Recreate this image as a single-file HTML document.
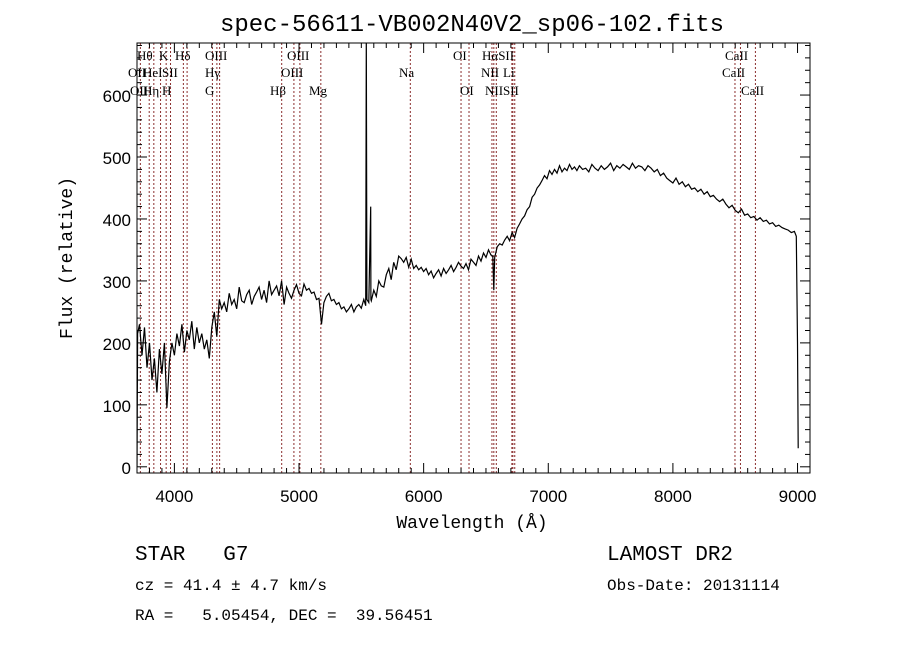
<!DOCTYPE html>
<html><head><meta charset="utf-8"><style>
body{margin:0;background:#fff;}
svg{display:block}
.t{font-family:"Liberation Serif",serif;font-size:13px;fill:#000}
.ax{font-family:"Liberation Sans",sans-serif;font-size:17px;fill:#000}
.mono{font-family:"Liberation Mono",monospace;fill:#000}
</style></head><body>
<svg id="c" width="900" height="649" xmlns="http://www.w3.org/2000/svg"></svg>
<script>
const wave=[3700,3705,3720,3740,3760,3780,3800,3820,3840,3860,3880,3900,3920,3940,3960,3980,4000,4020,4040,4060,4080,4100,4120,4140,4160,4180,4200,4220,4240,4260,4280,4300,4320,4340,4360,4380,4400,4420,4440,4460,4480,4500,4520,4540,4560,4580,4600,4620,4640,4660,4680,4700,4720,4740,4760,4780,4800,4820,4840,4860,4880,4900,4920,4940,4960,4980,5000,5020,5040,5060,5080,5100,5120,5140,5160,5180,5200,5220,5240,5260,5280,5300,5320,5340,5360,5380,5400,5420,5440,5460,5480,5500,5520,5535,5540,5545,5560,5575,5577,5580,5600,5620,5640,5660,5680,5700,5720,5740,5760,5780,5800,5820,5840,5860,5880,5900,5920,5940,5960,5980,6000,6020,6040,6060,6080,6100,6120,6140,6160,6180,6200,6220,6240,6260,6280,6300,6320,6340,6360,6380,6400,6420,6440,6460,6480,6500,6520,6540,6555,6563,6570,6590,6610,6630,6650,6670,6690,6710,6730,6750,6770,6790,6810,6830,6850,6870,6890,6910,6930,6950,6970,6990,7010,7030,7050,7070,7090,7110,7130,7150,7170,7190,7210,7230,7250,7275,7300,7325,7350,7375,7400,7425,7450,7475,7500,7525,7550,7575,7600,7625,7650,7675,7700,7725,7750,7775,7800,7825,7850,7875,7900,7925,7950,7975,8000,8025,8050,8075,8100,8125,8150,8175,8200,8225,8250,8275,8300,8325,8350,8375,8400,8425,8450,8475,8500,8525,8550,8575,8600,8625,8650,8675,8700,8725,8750,8775,8800,8825,8850,8875,8900,8925,8950,8975,8990,9000,9005,9010];
const flux=[0,215,230,180,225,160,200,140,175,120,190,150,200,95,170,200,180,215,195,230,185,220,205,235,190,225,200,215,190,205,175,225,250,210,270,255,265,250,280,262,270,255,290,268,265,278,285,262,275,282,290,270,285,265,300,278,285,292,276,300,262,290,280,272,285,294,280,276,295,285,288,280,282,270,272,230,265,275,280,268,270,262,265,255,258,250,255,262,250,258,262,256,270,260,700,270,265,420,270,268,285,275,300,292,290,310,320,302,330,318,340,336,330,338,322,335,320,325,318,322,315,320,310,316,305,312,318,308,320,312,318,325,315,322,330,324,320,328,318,335,330,325,340,332,345,338,350,342,340,285,338,355,360,358,366,372,365,378,370,385,392,400,405,415,420,435,440,450,455,462,470,465,478,472,480,474,486,476,482,478,488,480,484,478,486,480,482,476,488,482,478,486,480,484,490,478,486,482,488,484,480,490,482,486,484,478,486,482,476,480,470,474,466,462,458,466,456,460,452,456,448,450,444,448,440,444,436,438,432,428,432,424,418,422,414,410,416,406,408,402,404,398,402,396,398,392,394,388,390,386,384,382,378,380,372,200,30];
const lineW=[3727,3798,3835,3889,3934,3969,4072,4102,4305,4341,4363,4861,4959,5007,5175,5893,6300,6364,6548,6563,6583,6708,6716,6731,8498,8542,8662];
const labels=[["Hθ",137,60],["K",159,60],["Hδ",175,60],["OIII",205,60],["OIII",287,60],["OI",453,60],["HαSII",482,60],["CaII",725,60],
["OII",128,77],["HeI",143,77],["SII",162,77],["Hγ",205,77],["OIII",281,77],["Na",399,77],["NII",481,77],["Li",503,77],["CaII",722,77],
["OII",130,95],["Hη",143,95],["H",162,95],["G",205,95],["Hβ",270,95],["Mg",309,95],["OI",460,95],["NII",485,95],["SII",503,95],["CaII",741,95]];
const xTicks=[4000,5000,6000,7000,8000,9000];
const yTicks=[0,100,200,300,400,500,600];
const L=137,R=810,T=43,B=473,X0=3700,X1=9100,Y0=-10,Y1=684;
const sx=w=>L+(w-X0)/(X1-X0)*(R-L), sy=f=>B-(f-Y0)/(Y1-Y0)*(B-T);
const svg=document.getElementById('c');const NS='http://www.w3.org/2000/svg';
function mk(tag,at,parent){const e=document.createElementNS(NS,tag);for(const k in at)e.setAttribute(k,at[k]);(parent||svg).appendChild(e);return e;}
const defs=mk('defs',{});const cp=mk('clipPath',{id:'pc'},defs);mk('rect',{x:L,y:T,width:R-L,height:B-T},cp);
lineW.forEach(w=>{const e=mk('line',{x1:sx(w),x2:sx(w),y1:T,y2:B,stroke:'#8b2e2e','stroke-width':1,'stroke-dasharray':'2,2'});

});
labels.forEach(l=>{const e=mk('text',{x:l[1],y:l[2],class:'t'});e.textContent=l[0];

});
let d='';wave.forEach((w,i)=>{d+=(i?'L':'M')+sx(w).toFixed(1)+','+sy(flux[i]).toFixed(1);});
const p=mk('path',{d:d,fill:'none',stroke:'#000','stroke-width':1.2,'clip-path':'url(#pc)'});


const fr=mk('rect',{x:L,y:T,width:R-L,height:B-T,fill:'none',stroke:'#000','stroke-width':1});


for(let w=3700;w<=9100;w+=100){const maj=w%1000==0;const h=maj?10:5;
mk('line',{x1:sx(w),x2:sx(w),y1:B,y2:B-h,stroke:'#000'});mk('line',{x1:sx(w),x2:sx(w),y1:T,y2:T+h,stroke:'#000'});}
for(let f=0;f<=680;f+=20){const maj=f%100==0;const h=maj?10:5;
mk('line',{x1:L,x2:L+h,y1:sy(f),y2:sy(f),stroke:'#000'});mk('line',{x1:R,x2:R-h,y1:sy(f),y2:sy(f),stroke:'#000'});}
xTicks.forEach(v=>{const e=mk('text',{x:sx(v),y:502,class:'ax','text-anchor':'middle'});e.textContent=v;

});
yTicks.forEach(v=>{const e=mk('text',{x:131,y:sy(v)+7,class:'ax','text-anchor':'end'});e.textContent=v;

});
</script>
<svg style="position:absolute;left:0;top:0" width="900" height="649">
<text x="472" y="31" class="mono" font-size="24" text-anchor="middle">spec-56611-VB002N40V2_sp06-102.fits</text>
<text x="472" y="528" class="mono" font-size="18" text-anchor="middle">Wavelength (Å)</text>
<text transform="translate(72,258) rotate(-90)" class="mono" font-size="18" text-anchor="middle">Flux (relative)</text>
<text x="135" y="560" class="mono" font-size="21" xml:space="preserve">STAR   G7</text>
<text x="135" y="590" class="mono" font-size="16">cz = 41.4 ± 4.7 km/s</text>
<text x="135" y="620" class="mono" font-size="16" xml:space="preserve">RA =   5.05454, DEC =  39.56451</text>
<text x="607" y="560" class="mono" font-size="21">LAMOST DR2</text>
<text x="607" y="590" class="mono" font-size="16">Obs-Date: 20131114</text>
</svg>
</body></html>
